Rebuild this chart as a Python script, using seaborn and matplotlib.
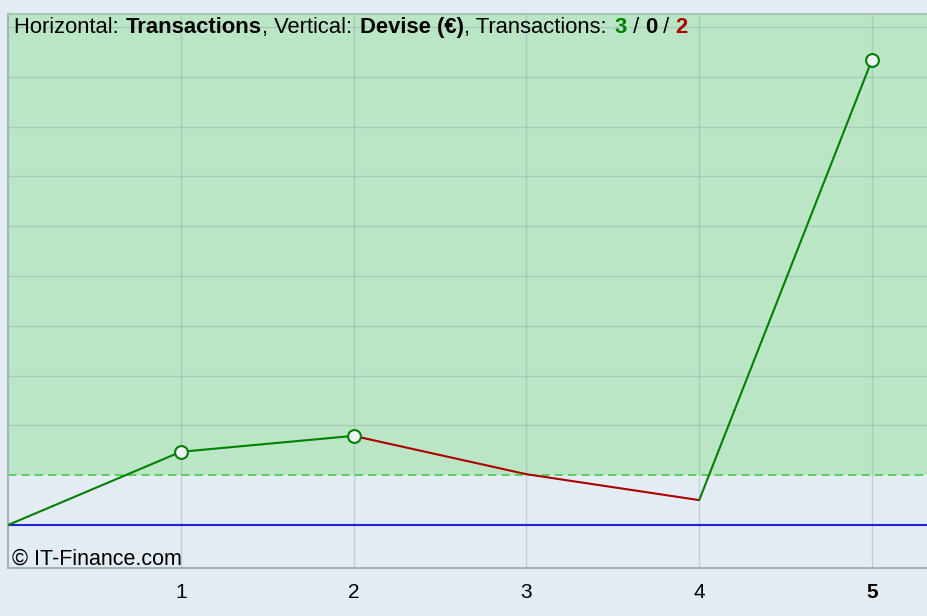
import matplotlib
matplotlib.use("Agg")
import matplotlib.pyplot as plt
import seaborn as sns
import pandas as pd
from matplotlib.font_manager import FontProperties, findfont
from matplotlib.ft2font import FT2Font

# data
transactions = [0, 1, 2, 3, 4, 5]
equity = [0.0, 1.47, 1.79, 1.02, 0.50, 9.34]
winners = [1, 2, 5]
start_level = 1.0
tick_labels = ["1", "2", "3", "4", "5"]

bg = "#E4ECF3"
green_fill = "#BAE6C6"
up_col = "#008000"
down_col = "#AA0000"
fs = 15.8

sns.set_theme(style="white")
plt.rcParams["font.family"] = ["Liberation Sans", "DejaVu Sans"]

fig = plt.figure(figsize=(9.28, 6.16), dpi=100, facecolor=bg)
ax = fig.add_axes([8 / 928, 48 / 616, 920 / 928, 554 / 616])
ax.set_facecolor(bg)
ax.set_xlim(0, 5.324)
ax.set_ylim(-0.863, 10.26)

# green zone above the starting level
ax.axhspan(start_level, 10.26, color=green_fill, zorder=0, lw=0)

# grid
for x in transactions[1:]:
    ax.axvline(x, color="#8FA3AC", alpha=0.4, lw=1, zorder=1)
for y in range(2, 11):
    ax.axhline(y, color="#8FA3AC", alpha=0.4, lw=1, zorder=1)

ax.axhline(start_level, color="#44CC44", lw=1.2, ls=(0, (5, 3)), zorder=2)
ax.axhline(0, color="#2222DD", lw=1.5, zorder=2)

# segments coloured by direction
for i in range(len(transactions) - 1):
    seg = pd.DataFrame({"x": transactions[i:i + 2], "y": equity[i:i + 2]})
    col = up_col if equity[i + 1] >= equity[i] else down_col
    sns.lineplot(data=seg, x="x", y="y", color=col, lw=1.5, ax=ax, zorder=3)

pts = pd.DataFrame({"x": winners, "y": [equity[t] for t in winners]})
sns.scatterplot(data=pts, x="x", y="y", s=85, color="#F0F4F7", edgecolor=up_col,
                linewidth=1.5, ax=ax, zorder=4)

ax.set_xlabel("")
ax.set_ylabel("")
ax.set_yticks([])
ax.set_xticks(transactions[1:])
ax.set_xticklabels(tick_labels, fontsize=15, color="black")
ax.get_xticklabels()[-1].set_fontweight("bold")
ax.tick_params(axis="x", length=8, width=1.2, color="#A6B2BA", pad=3, direction="out")
ax.spines["right"].set_visible(False)
ax.spines["left"].set_color("#A6B2BA")
ax.spines["bottom"].set_color("#A6B2BA")
ax.spines["top"].set_color("#A9C4B6")
for side in ["left", "bottom", "top"]:
    ax.spines[side].set_linewidth(1.5)


def advance(s, weight):
    font = FT2Font(findfont(FontProperties(family="Liberation Sans", weight=weight)))
    font.set_size(fs, 100)
    return sum(font.load_char(ord(c)).linearHoriAdvance for c in s) / 65536


# title made of pieces with their own colours / weights
parts = [("Horizontal: ", "black", "normal"), ("Transactions", "black", "bold"),
         (", Vertical: ", "black", "normal"), ("Devise (€)", "black", "bold"),
         (", Transactions: ", "black", "normal"), ("3", up_col, "bold"),
         (" / ", "black", "normal"), ("0", "black", "bold"),
         (" / ", "black", "normal"), ("2", down_col, "bold")]
xpix = 14
for s, c, w in parts:
    fig.text(xpix / 928, 1 - 33 / 616, s, color=c, fontweight=w, fontsize=fs,
             va="baseline", ha="left")
    xpix += advance(s, w)

fig.text(12 / 928, 1 - 565 / 616, "© IT-Finance.com", fontsize=15.5, color="black",
         va="baseline", ha="left")

fig.savefig("out.png", dpi=100, facecolor=bg)
